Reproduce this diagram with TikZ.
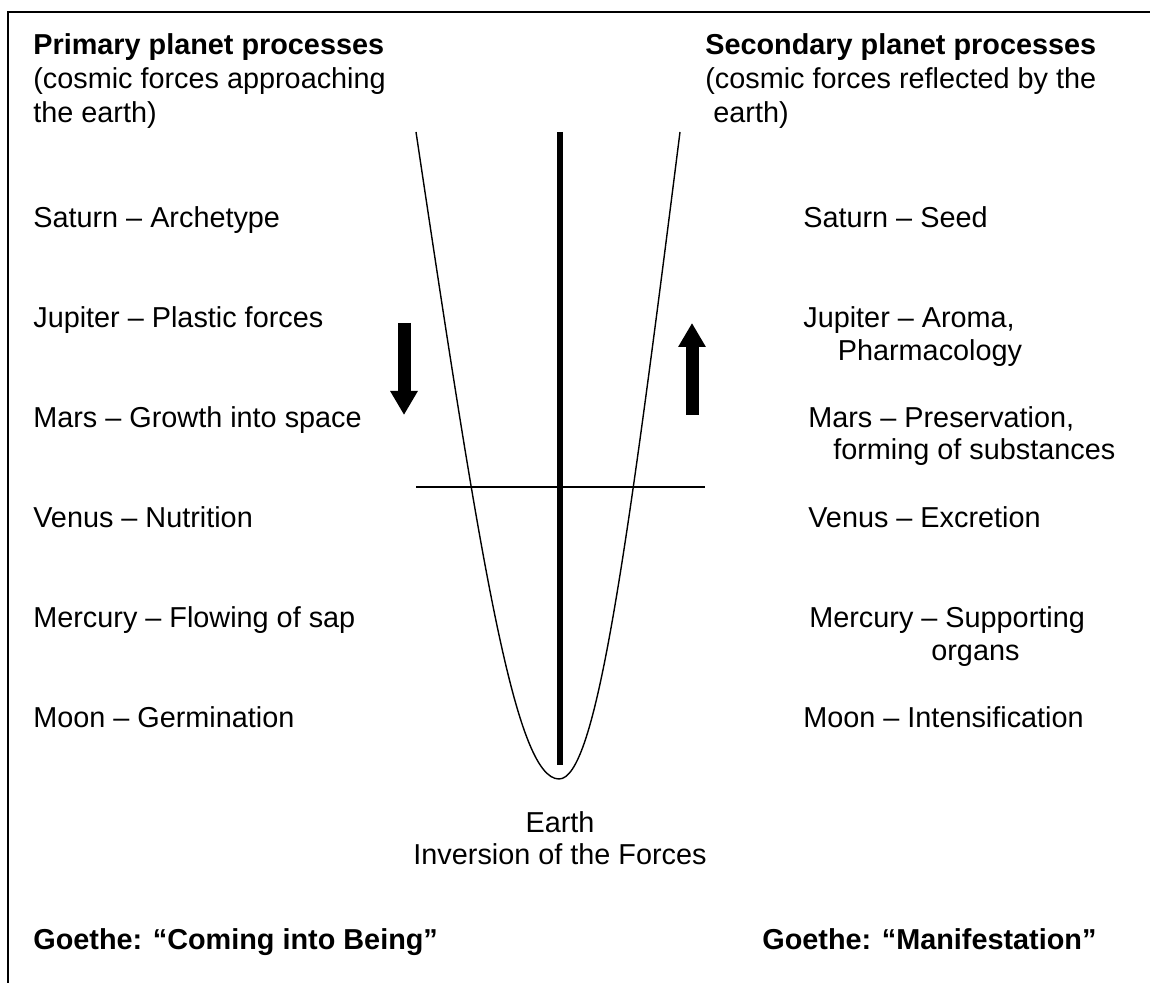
\documentclass[tikz,border=0pt]{standalone}
\usepackage{fontspec}
\setmainfont{Liberation Sans}
\usetikzlibrary{arrows.meta}

\begin{document}
\begin{tikzpicture}[font=\fontsize{16.4}{19}\selectfont,
    lbl/.style={anchor=base west,inner sep=0pt},
    hdr/.style={lbl,font=\fontsize{16.4}{19}\selectfont\bfseries},
    mid/.style={anchor=base,inner sep=0pt},
    bigarrow/.style={line width=.26cm,-{Triangle[width=.52cm,length=.48cm]}}]
  \useasboundingbox (0,0) rectangle (23,19.66);
  % frame, only top and left edge visible
  \draw[line width=1pt] (23,19.42) -- (0.16,19.42) -- (0.16,0);
  % headings
  \node[hdr] (primA) at (0.66,18.56) {Primary planet processes};
  \node[lbl] (primB) at (0.66,17.88) {(cosmic forces approaching};
  \node[lbl] (primC) at (0.66,17.2) {the earth)};
  \node[hdr] (secA) at (14.1,18.56) {Secondary planet processes};
  \node[lbl] (secB) at (14.1,17.88) {(cosmic forces reflected by the};
  \node[lbl] (secC) at (14.26,17.2) {earth)};
  % planets, left column
  \foreach \y/\name/\txt in {15.1/satL/Saturn -- Archetype,13.1/jupL/Jupiter -- Plastic forces,
      11.1/marL/Mars -- Growth into space,9.1/venL/Venus -- Nutrition,
      7.1/merL/Mercury -- Flowing of sap,5.1/mooL/Moon -- Germination}
    \node[lbl] (\name) at (0.66,\y) {\txt};
  % planets, right column
  \foreach \x/\y/\name/\txt in {16.06/15.1/satR/Saturn -- Seed,16.06/13.1/jupR/{Jupiter -- Aroma,},
      16.75/12.44/jupRb/Pharmacology,16.16/11.1/marR/{Mars -- Preservation,},
      16.66/10.46/marRb/forming of substances,16.16/9.1/venR/Venus -- Excretion,
      16.18/7.1/merR/Mercury -- Supporting,18.62/6.44/merRb/organs,16.06/5.1/mooR/Moon -- Intensification}
    \node[lbl] (\name) at (\x,\y) {\txt};
  % parabola, axis and earth line
  \draw[line width=.8pt] (8.32,17.02) .. controls (9.6,8.46) and (10.3,4.08) .. (11.18,4.08)
    .. controls (11.92,4.08) and (12.52,8.46) .. (13.6,17.02);
  \draw[line width=3.4pt] (11.2,17.02) -- (11.2,4.36);
  \draw[line width=.6pt] (8.32,9.92) -- (14.1,9.92);
  % direction arrows
  \coordinate (dnTop) at (8.08,13.2);
  \coordinate (dnTip) at (8.08,11.36);
  \coordinate (upFoot) at (13.84,11.36);
  \coordinate (upTip) at (13.84,13.2);
  \draw[bigarrow] (dnTop) -- (dnTip);
  \draw[bigarrow] (upFoot) -- (upTip);
  % earth
  \node[mid] (earth) at (11.2,3.0) {Earth};
  \node[mid] (inversion) at (11.2,2.36) {Inversion of the Forces};
  % goethe
  \node[hdr] (goeL) at (0.66,0.66) {Goethe: “Coming into Being”};
  \node[hdr] (goeR) at (15.24,0.66) {Goethe: “Manifestation”};
\end{tikzpicture}
\end{document}
